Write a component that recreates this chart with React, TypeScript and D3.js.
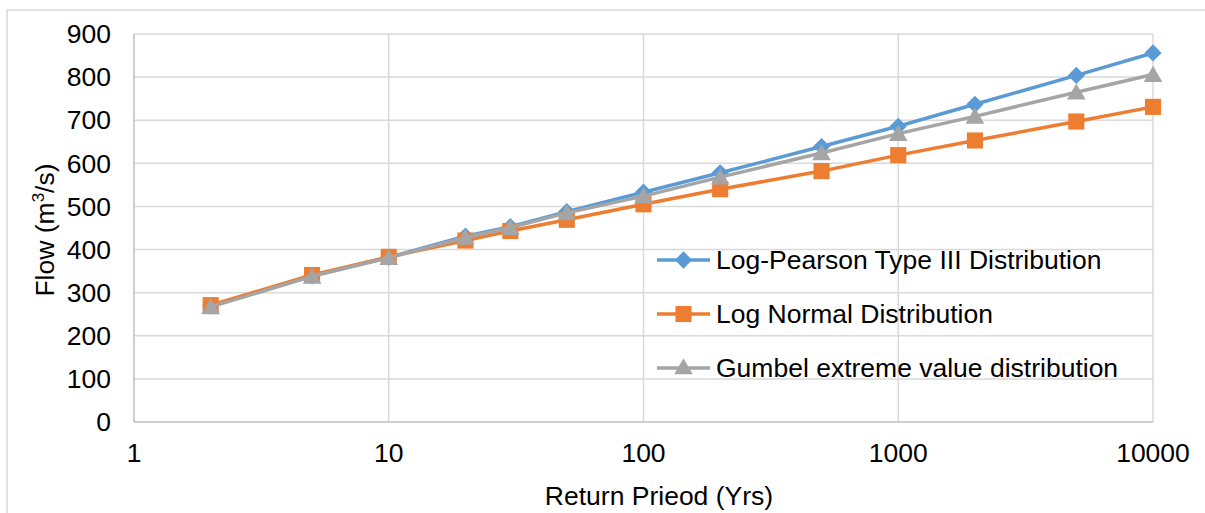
import React, { useEffect, useRef } from 'react';
import * as d3 from 'd3';

const returnPeriods = [2, 5, 10, 20, 30, 50, 100, 200, 500, 1000, 2000, 5000, 10000];
const logPearson = [269, 339, 382, 431, 453, 488, 533, 578, 639, 686, 737, 804, 856];
const logNormal = [271, 341, 383, 421, 443, 469, 505, 540, 582, 619, 653, 697, 731];
const gumbel = [267, 338, 381, 428, 451, 485, 524, 568, 624, 669, 709, 765, 806];

const seriesNames = [
    'Log-Pearson Type III Distribution',
    'Log Normal Distribution',
    'Gumbel extreme value distribution',
];
const xTicks = [1, 10, 100, 1000, 10000];
const yTicks = [0, 100, 200, 300, 400, 500, 600, 700, 800, 900];

const FONT = '"Liberation Sans", Arial, sans-serif';
const FS = 26.5;

const App: React.FC = () => {
    const svgRef = useRef<SVGSVGElement>(null);

    const width = 1205;
    const height = 513;

    useEffect(() => {
        if (!svgRef.current) return;

        const svg = d3.select(svgRef.current);
        svg.selectAll('*').remove();

        const margin = { top: 34, right: 52, bottom: 91, left: 134 };
        const innerWidth = width - margin.left - margin.right;
        const innerHeight = height - margin.top - margin.bottom;

        // chart frame (runs off the picture on right and bottom)
        svg.append('path')
            .attr('d', `M7,${height + 5} V10 H${width + 5}`)
            .attr('fill', 'none')
            .attr('stroke', '#d9d9d9')
            .attr('stroke-width', 1.5);

        const xScale = d3.scaleLog()
            .domain([1, 10000])
            .range([0, innerWidth]);

        const yScale = d3.scaleLinear()
            .domain([0, 900])
            .range([innerHeight, 0]);

        const g = svg.append('g')
            .attr('transform', `translate(${margin.left},${margin.top})`);

        // gridlines
        g.append('g')
            .selectAll('line')
            .data(yTicks.filter(d => d > 0))
            .join('line')
            .attr('x1', 0)
            .attr('x2', innerWidth)
            .attr('y1', d => yScale(d))
            .attr('y2', d => yScale(d))
            .attr('stroke', '#d9d9d9')
            .attr('stroke-width', 1.5);

        g.append('g')
            .selectAll('line')
            .data(xTicks)
            .join('line')
            .attr('x1', d => xScale(d))
            .attr('x2', d => xScale(d))
            .attr('y1', 0)
            .attr('y2', innerHeight)
            .attr('stroke', d => d === 1 ? '#bfbfbf' : '#d9d9d9')
            .attr('stroke-width', 1.5);

        // bottom axis line
        g.append('line')
            .attr('x1', 0)
            .attr('x2', innerWidth)
            .attr('y1', innerHeight)
            .attr('y2', innerHeight)
            .attr('stroke', '#bfbfbf')
            .attr('stroke-width', 1.5);

        // tick labels
        g.append('g')
            .selectAll('text')
            .data(yTicks)
            .join('text')
            .attr('x', -23)
            .attr('y', d => yScale(d))
            .attr('dy', '0.35em')
            .attr('text-anchor', 'end')
            .attr('font-family', FONT)
            .attr('font-size', FS)
            .attr('fill', '#000')
            .text(d => String(d));

        g.append('g')
            .selectAll('text')
            .data(xTicks)
            .join('text')
            .attr('x', d => xScale(d))
            .attr('y', innerHeight + 31)
            .attr('dy', '0.35em')
            .attr('text-anchor', 'middle')
            .attr('font-family', FONT)
            .attr('font-size', FS)
            .attr('fill', '#000')
            .text(d => String(d));

        // axis titles
        svg.append('text')
            .attr('x', 659)
            .attr('y', 505)
            .attr('text-anchor', 'middle')
            .attr('font-family', FONT)
            .attr('font-size', FS)
            .attr('fill', '#000')
            .text('Return Prieod (Yrs)');

        const yTitle = svg.append('text')
            .attr('transform', 'translate(54,230) rotate(-90)')
            .attr('text-anchor', 'middle')
            .attr('font-family', FONT)
            .attr('font-size', FS)
            .attr('fill', '#000');
        yTitle.append('tspan').text('Flow (m');
        yTitle.append('tspan').attr('font-size', 17).attr('dy', -10).text('3');
        yTitle.append('tspan').attr('dy', 10).text('/s)');

        const colors = ['#5b9bd5', '#ed7d31', '#a5a5a5'];
        const allSeries = [logPearson, logNormal, gumbel];

        const line = d3.line<number>()
            .x((d, i) => xScale(returnPeriods[i]))
            .y(d => yScale(d));

        const diamond = d3.symbol().type(d3.symbolDiamond2).size(190)();
        const square = d3.symbol().type(d3.symbolSquare).size(260)();
        const triangle = d3.symbol().type(d3.symbolTriangle).size(150)();
        const shapes = [diamond, square, triangle];

        allSeries.forEach((values, s) => {
            g.append('path')
                .datum(values)
                .attr('fill', 'none')
                .attr('stroke', colors[s])
                .attr('stroke-width', 3.5)
                .attr('stroke-linejoin', 'round')
                .attr('d', line);

            g.append('g')
                .selectAll('path')
                .data(values)
                .join('path')
                .attr('transform', (d, i) => `translate(${xScale(returnPeriods[i])},${yScale(d) + (s === 2 ? 2 : 0)})`)
                .attr('d', shapes[s])
                .attr('fill', colors[s]);
        });

        // legend
        const legendY = [260, 314, 368];
        const legend = svg.append('g');
        seriesNames.forEach((name, s) => {
            const ly = legendY[s];
            legend.append('line')
                .attr('x1', 657)
                .attr('x2', 710)
                .attr('y1', ly)
                .attr('y2', ly)
                .attr('stroke', colors[s])
                .attr('stroke-width', 3.5);
            legend.append('path')
                .attr('transform', `translate(683.5,${ly + (s === 2 ? 1 : 0)})`)
                .attr('d', shapes[s])
                .attr('fill', colors[s]);
            legend.append('text')
                .attr('x', 716)
                .attr('y', ly)
                .attr('dy', '0.35em')
                .attr('font-family', FONT)
                .attr('font-size', FS)
                .attr('fill', '#000')
                .text(name);
        });
    }, []);

    return (
        <svg
            ref={svgRef}
            width={width}
            height={height}
            style={{ position: 'absolute', left: 0, top: 0, background: '#fff' }}
        ></svg>
    );
};

export default App;
